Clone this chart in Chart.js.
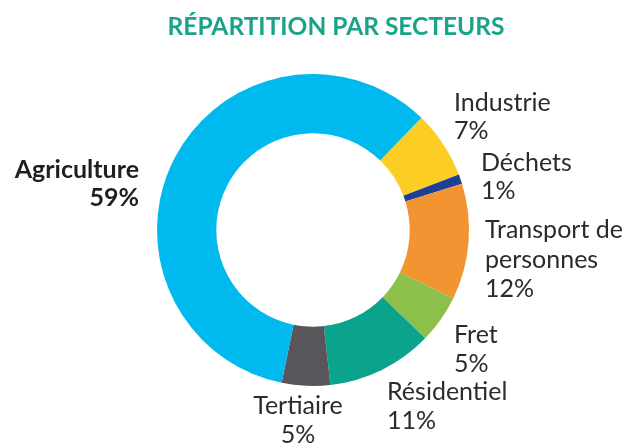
<!DOCTYPE html>
<html>
<head>
<meta charset="utf-8">
<script src="https://cdn.jsdelivr.net/npm/chart.js@4/dist/chart.umd.min.js"></script>
<style>
html,body{margin:0;padding:0;background:#fff;}
#wrap{width:622px;height:446px;position:relative;}
</style>
</head>
<body>
<div id="wrap"><canvas id="c" width="622" height="446"></canvas></div>
<script>
const title = "RÉPARTITION PAR SECTEURS";
const categories = ["Industrie", "Déchets", "Transport de\npersonnes", "Fret", "Résidentiel", "Tertiaire", "Agriculture"];
const values = [7, 1, 12, 5, 11, 5, 59];
const colors = ["#fccd24", "#1e3f98", "#f29431", "#8cc04b", "#0ba38b", "#58565b", "#00b9ee"];

// label layout: anchor x, first-line baseline y, line pitch, alignment, bold
const labelLayout = [
  {x: 454, y: 111, pitch: 28, align: "left"},
  {x: 481, y: 171, pitch: 28, align: "left"},
  {x: 485, y: 238, pitch: 29.5, align: "left"},
  {x: 454, y: 343, pitch: 29, align: "left"},
  {x: 387, y: 400, pitch: 28.5, align: "left"},
  {x: 298, y: 414, pitch: 29, align: "center"},
  {x: 139, y: 178, pitch: 28, align: "right", bold: true}
];

const labelPlugin = {
  id: "labels",
  afterDraw(chart) {
    const ctx = chart.ctx;
    ctx.save();
    ctx.textBaseline = "alphabetic";
    ctx.fillStyle = "#1aa38a";
    ctx.font = "bold 24.5px Lato";
    ctx.textAlign = "center";
    ctx.fillText(title, 336, 35);
    categories.forEach((cat, i) => {
      const L = labelLayout[i];
      const lines = cat.split("\n").concat([values[i] + "%"]);
      ctx.font = (L.bold ? "bold " : "") + "25px Lato";
      ctx.fillStyle = L.bold ? "#1f1f1f" : "#2b2b2b";
      ctx.textAlign = L.align;
      lines.forEach((ln, j) => ctx.fillText(ln, L.x, L.y + j * L.pitch));
    });
    ctx.restore();
  }
};

new Chart(document.getElementById("c"), {
  type: "doughnut",
  data: {
    labels: categories,
    datasets: [{data: values, backgroundColor: colors, borderWidth: 0}]
  },
  options: {
    responsive: false,
    animation: false,
    rotation: 44,
    cutout: "62%",
    layout: {padding: {left: 157, right: 153, top: 74, bottom: 60}},
    plugins: {legend: {display: false}, tooltip: {enabled: false}, title: {display: false}}
  },
  plugins: [labelPlugin]
});
</script>
</body>
</html>
